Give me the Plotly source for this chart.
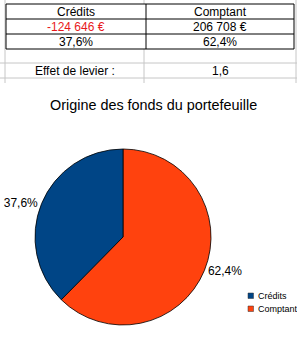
import plotly.graph_objects as go

# ---- data ----
categories = ["Crédits", "Comptant"]
amounts = [-124646, 206708]
leverage_label = "Effet de levier :"
leverage_value = [1.6]
chart_title = "Origine des fonds du portefeuille"
colors = ["#004586", "#ff420e"]

W, H = 297, 337
FONT = "Liberation Sans, Arial, sans-serif"

abs_vals = [abs(v) for v in amounts]
total = sum(abs_vals)
pct_text = [f"{v / total * 100:.1f}".replace(".", ",") + "%" for v in abs_vals]
amount_text = [f"{v:,}".replace(",", " ") + " €" for v in amounts]

fig = go.Figure()

# Plotly always places the first slice clockwise from 12 o'clock, so feed the
# slices in reverse order to get "Crédits" to the left of 12 o'clock.
fig.add_trace(go.Pie(
    labels=categories[::-1],
    values=abs_vals[::-1],
    text=pct_text[::-1],
    textinfo="text",
    textposition="outside",
    textfont=dict(family=FONT, size=12, color="#000000"),
    marker=dict(colors=colors[::-1], line=dict(color="#000000", width=0.8)),
    sort=False,
    direction="clockwise",
    rotation=0,
    hoverinfo="label+percent",
    domain=dict(x=[35 / W, 211 / W], y=[1 - 325 / H, 1 - 149 / H]),
    showlegend=False,
))

fig.update_layout(
    width=W, height=H,
    margin=dict(l=0, r=0, t=0, b=0),
    paper_bgcolor="white", plot_bgcolor="white",
    xaxis=dict(range=[0, W], visible=False, domain=[0, 1], fixedrange=True),
    yaxis=dict(range=[H, 0], visible=False, domain=[0, 1], fixedrange=True),
    showlegend=False,
    font=dict(family=FONT, size=12, color="#000000"),
)

shapes = []
grey = "#c6c6c6"
# spreadsheet grid lines
for gx in [5, 144, 296]:
    shapes.append(dict(type="line", x0=gx, x1=gx, y0=0, y1=83, xref="x", yref="y",
                       line=dict(color=grey, width=1), layer="below"))
for gy in [63, 78]:
    shapes.append(dict(type="line", x0=0, x1=W, y0=gy, y1=gy, xref="x", yref="y",
                       line=dict(color=grey, width=1), layer="below"))
# black bordered table
shapes.append(dict(type="rect", x0=6, x1=294, y0=4, y1=49, xref="x", yref="y",
                   line=dict(color="#000000", width=1), fillcolor="white", layer="below"))
for gy in [19, 34]:
    shapes.append(dict(type="line", x0=6, x1=294, y0=gy, y1=gy, xref="x", yref="y",
                       line=dict(color="#000000", width=1)))
shapes.append(dict(type="line", x0=146, x1=146, y0=4, y1=49, xref="x", yref="y",
                   line=dict(color="#000000", width=1)))

# legend squares
for i, c in enumerate(colors):
    y0 = 293 + i * 13
    shapes.append(dict(type="rect", x0=248, x1=253.5, y0=y0, y1=y0 + 5.5, xref="x", yref="y",
                       line=dict(color="#333333", width=0.5), fillcolor=c))

annotations = []
col_x = [76, 220]
for i, cat in enumerate(categories):
    annotations.append(dict(x=col_x[i], y=11.5, text=cat, xref="x", yref="y",
                            showarrow=False, font=dict(size=12, color="#000000")))
    annotations.append(dict(x=col_x[i], y=26.5, text=amount_text[i], xref="x", yref="y",
                            showarrow=False,
                            font=dict(size=12, color="#e8191b" if amounts[i] < 0 else "#000000")))
    annotations.append(dict(x=col_x[i], y=41.5, text=pct_text[i], xref="x", yref="y",
                            showarrow=False, font=dict(size=12, color="#000000")))
annotations.append(dict(x=75, y=71, text=leverage_label, xref="x", yref="y",
                        showarrow=False, font=dict(size=12, color="#000000")))
annotations.append(dict(x=220, y=71, text=f"{leverage_value[0]:.1f}".replace(".", ","),
                        xref="x", yref="y", showarrow=False,
                        font=dict(size=12, color="#000000")))
annotations.append(dict(x=153, y=105, text=chart_title, xref="x", yref="y",
                        showarrow=False, font=dict(size=14.4, color="#000000")))
for i, cat in enumerate(categories):
    annotations.append(dict(x=255.5, y=296 + i * 13, text=cat, xref="x", yref="y",
                            xanchor="left", showarrow=False,
                            font=dict(size=9, color="#000000")))

fig.update_layout(shapes=shapes, annotations=annotations)

fig.write_html("out.html")
